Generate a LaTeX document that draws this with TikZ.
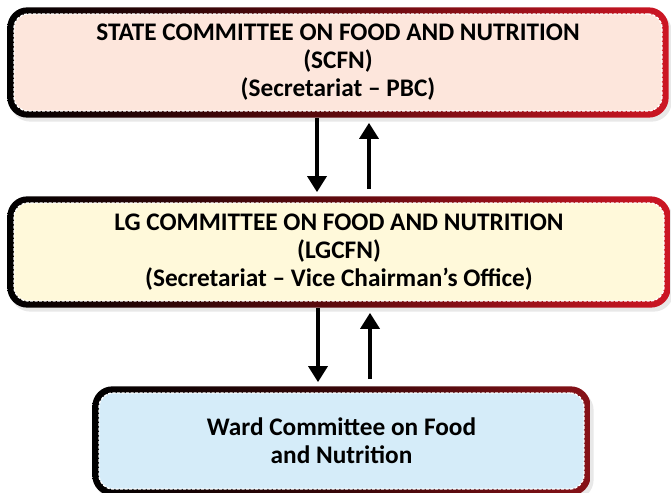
\documentclass[tikz,border=0pt]{standalone}
\usepackage{fontspec}
\setmainfont{Carlito}
\usetikzlibrary{arrows.meta,positioning,fit,backgrounds,shadows}
\definecolor{stateFill}{RGB}{253,230,220}
\definecolor{lgFill}{RGB}{255,249,218}
\definecolor{wardFill}{RGB}{213,236,249}
\definecolor{rimRed}{RGB}{205,22,36}
\definecolor{rimMaroon}{RGB}{95,10,14}
\definecolor{rimDark}{RGB}{135,18,24}
\definecolor{rimDeep}{RGB}{55,6,8}
\tikzset{
  cmtBox/.style={rectangle,rounded corners=14pt,fill=#1,draw=white,dashed,
                 dash pattern=on 3pt off 1.5pt,line width=1.3pt,align=center,
                 inner sep=0pt,font=\fontsize{25.3}{28}\selectfont\bfseries},
  rimBox/.style 2 args={rectangle,rounded corners=20pt,inner sep=6pt,draw=none,
                 left color=black,right color=#2,middle color=#1,
                 drop shadow={opacity=0.18,shadow xshift=3pt,shadow yshift=-4pt}},
  flowArrow/.style={-{Triangle[width=19pt,length=16pt]},line width=3.5pt},
}

\begin{document}
\begin{tikzpicture}[x=1pt,y=1pt]
  \useasboundingbox (0,0) rectangle (671,492);
  \node[cmtBox=stateFill,minimum width=648pt,minimum height=97pt](scfn) at (338,429.5)
      {STATE COMMITTEE ON FOOD AND NUTRITION\\(SCFN)\\(Secretariat -- PBC)};
  \node[cmtBox=lgFill,minimum width=650pt,minimum height=98pt](lgcfn) at (339,240)
      {LG COMMITTEE ON FOOD AND NUTRITION\\(LGCFN)\\(Secretariat -- Vice Chairman’s Office)};
  \node[cmtBox=wardFill,minimum width=485pt,minimum height=96pt](wcfn) at (341.5,51)
      {Ward Committee on Food\\and Nutrition};
  \begin{scope}[on background layer]
    \node[rimBox={rimMaroon}{rimRed},fit=(scfn)](scfnRim){};
    \node[rimBox={rimMaroon}{rimRed},fit=(lgcfn)](lgcfnRim){};
    \node[rimBox={rimDeep}{rimDark},fit=(wcfn)](wcfnRim){};
  \end{scope}
  \foreach \hi/\lo in {scfnRim/lgcfnRim,lgcfnRim/wcfnRim}{
    \draw[flowArrow,shorten >=4pt]([xshift=-21pt]\hi.south)--([xshift=-21pt]\hi.south |- \lo.north);
    \draw[flowArrow,shorten <=7pt,shorten >=5pt]([xshift=31pt]\hi.south |- \lo.north)--([xshift=31pt]\hi.south);
  }
\end{tikzpicture}
\end{document}
